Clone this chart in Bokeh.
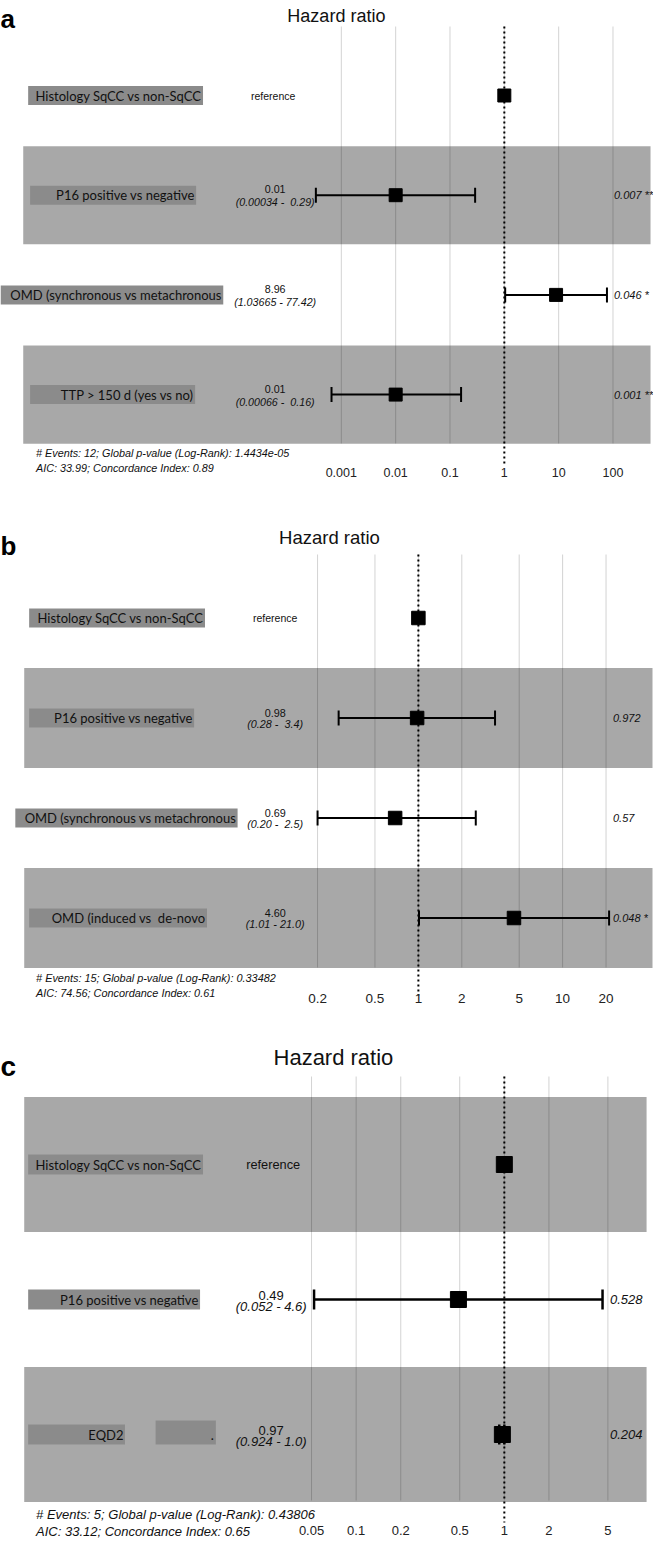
import numpy as np
from bokeh.plotting import figure
from bokeh.models import Range1d, FixedTicker, CustomJSTickFormatter, Label
from bokeh.layouts import column
from bokeh.core.properties import value
from bokeh.embed import file_html
from bokeh.resources import INLINE

# ---------------- data ----------------
NULL_HR = 1.0
NB = "\u00a0"  # keeps the double spaces of the original labels visible

# panel a
a_labels = ["Histology SqCC vs non-SqCC", "P16 positive vs negative",
            "OMD (synchronous vs metachronous", "TTP > 150 d (yes vs no)"]
a_hr = [1.0, 0.01, 8.96, 0.01]
a_lo = [np.nan, 0.00034, 1.03665, 0.00066]
a_hi = [np.nan, 0.29, 77.42, 0.16]
a_est = ["reference", "0.01", "8.96", "0.01"]
a_ci = ["", "(0.00034 - " + NB + "0.29)", "(1.03665 - 77.42)", "(0.00066 - " + NB + "0.16)"]
a_p = ["", "0.007 **", "0.046 *", "0.001 **"]
a_ticks = [0.001, 0.01, 0.1, 1, 10, 100]
a_tick_labels = ["0.001", "0.01", "0.1", "1", "10", "100"]
a_events = "# Events: 12; Global p-value (Log-Rank): 1.4434e-05"
a_aic = "AIC: 33.99; Concordance Index: 0.89"

# panel b
b_labels = ["Histology SqCC vs non-SqCC", "P16 positive vs negative",
            "OMD (synchronous vs metachronous", "OMD (induced vs " + NB + "de-novo"]
b_hr = [1.0, 0.98, 0.69, 4.60]
b_lo = [np.nan, 0.28, 0.20, 1.01]
b_hi = [np.nan, 3.4, 2.5, 21.0]
b_est = ["reference", "0.98", "0.69", "4.60"]
b_ci = ["", "(0.28 - " + NB + "3.4)", "(0.20 - " + NB + "2.5)", "(1.01 - 21.0)"]
b_p = ["", "0.972", "0.57", "0.048 *"]
b_ticks = [0.2, 0.5, 1, 2, 5, 10, 20]
b_tick_labels = ["0.2", "0.5", "1", "2", "5", "10", "20"]
b_events = "# Events: 15; Global p-value (Log-Rank): 0.33482"
b_aic = "AIC: 74.56; Concordance Index: 0.61"

# panel c
c_labels = ["Histology SqCC vs non-SqCC", "P16 positive vs negative", "EQD2"]
c_level = ["", "", "."]
c_hr = [1.0, 0.49, 0.97]
c_lo = [np.nan, 0.052, 0.924]
c_hi = [np.nan, 4.6, 1.0]
c_est = ["reference", "0.49", "0.97"]
c_ci = ["", "(0.052 - 4.6)", "(0.924 - 1.0)"]
c_p = ["", "0.528", "0.204"]
c_ticks = [0.05, 0.1, 0.2, 0.5, 1, 2, 5]
c_tick_labels = ["0.05", "0.1", "0.2", "0.5", "1", "2", "5"]
c_events = "# Events: 5; Global p-value (Log-Rank): 0.43806"
c_aic = "AIC: 33.12; Concordance Index: 0.65"

# ---------------- layout ----------------
FIG_W = 653
REF_W = 661
SANS = "Liberation Sans"
LAB = "Lato"

spec_a = dict(T=0, H=497, MB=21, X1=510, D=55, R1=95, S=99.7,
              band_rows=[2, 4], band_half=0.492, band_x=(23, 658),
              grid=(26, 443), dot=(26, 463),
              title_x=340, title_y=15, title_size=18,
              letter="a", letter_y=18, letter_size=26,
              est_x=278, est_dy=(-6, 7), est_size=10.7, ref_x=276, ref_size=10.5,
              p_x=621, p_size=11, ev_x=36, ev_y=(452, 467), ev_size=10.8,
              tick_size=12.5, standoff=-9, square=13, cap=15, lw=2,
              boxes=[(28, 205), (30, 198), (0, 225.5), (30, 197)], box_h=9.5,
              label_size=13)
spec_b = dict(T=505, H=535, MB=33, X1=423, D=146, R1=625.5, S=100,
              band_rows=[2, 4], band_half=0.5, band_x=(24, 660),
              grid=(562, 975), dot=(562, 1003),
              title_x=333, title_y=545, title_size=18.5,
              letter="b", letter_y=553, letter_size=26,
              est_x=278, est_dy=(-5, 6), est_size=10.8, ref_x=278, ref_size=10.5,
              p_x=620, p_size=11, ev_x=36, ev_y=(985, 1000), ev_size=10.9,
              tick_size=13.5, standoff=-6, square=13.5, cap=15, lw=2,
              boxes=[(29, 207), (29, 196), (15, 240), (29, 209)], box_h=9.5,
              label_size=13)
spec_c = dict(T=1048, H=509, MB=1, X1=510, D=150, R1=1180, S=135,
              band_rows=[1, 3], band_half=0.5, band_x=(24, 654),
              grid=(1092, 1516), dot=(1092, 1538),
              title_x=337, title_y=1073, title_size=22,
              letter="c", letter_y=1082, letter_size=28,
              est_x=274, est_dy=(-4, 7), est_size=13, ref_x=276, ref_size=12.8,
              p_x=617, p_size=13, ev_x=36, ev_y=(1530, 1547), ev_size=13,
              tick_size=13, standoff=-15, square=16, cap=20, lw=2.5,
              boxes=[(28, 205), (28, 202), (28, 126)], box_h=10,
              level_box=(157, 218), level_h=12,
              label_size=13)

FMT_CODE = """
let best = 0, bd = Infinity;
for (let i = 0; i < vals.length; i++) {
  const d = Math.abs(Math.log(vals[i]) - Math.log(tick));
  if (d < bd) { bd = d; best = i; }
}
return labels[best];
"""


def build(sp, labels, hr, lo, hi, est, ci, pv, ticks, tick_labels, events, aic, level=None):
    X1, D, R1, S = sp["X1"], sp["D"], sp["R1"], sp["S"]
    T, H, MB = sp["T"], sp["H"], sp["MB"]

    def xd(px):
        return 10 ** ((px - X1) / D)

    def yd(r):
        return 1 + (r - R1) / S

    p = figure(width=FIG_W, height=H, x_axis_type="log",
               x_range=Range1d(xd(0), xd(REF_W)),
               y_range=Range1d(start=yd(T + H - MB), end=yd(T)),
               output_backend="svg", toolbar_location=None,
               min_border_left=0, min_border_right=0, min_border_top=0,
               min_border_bottom=MB, y_axis_location=None,
               outline_line_color=None, background_fill_color="white",
               border_fill_color="white")
    p.xgrid.visible = False
    p.ygrid.visible = False

    n = len(labels)
    rows = list(range(1, n + 1))

    # grid lines
    p.segment(x0=ticks, x1=ticks, y0=[yd(sp["grid"][0])] * len(ticks),
              y1=[yd(sp["grid"][1])] * len(ticks), line_color="#d3d3d3", line_width=1)
    # bands
    br = sp["band_rows"]
    hb = sp["band_half"]
    p.quad(left=[xd(sp["band_x"][0])] * len(br), right=[xd(sp["band_x"][1])] * len(br),
           top=[r - hb for r in br], bottom=[r + hb for r in br],
           fill_color="black", fill_alpha=0.34, line_color=None)
    # label boxes
    bh = sp["box_h"] / S
    p.quad(left=[xd(b[0]) for b in sp["boxes"]], right=[xd(b[1]) for b in sp["boxes"]],
           top=[r - bh for r in rows], bottom=[r + bh for r in rows],
           fill_color="#8b8b8b", line_color=None)
    p.text(x=[xd(b[1] - 1.5) for b in sp["boxes"]], y=rows, text=labels,
           text_font=value(LAB), text_font_size=f"{sp['label_size']}px",
           text_color="#111111", text_align="right", text_baseline="middle")
    if level is not None:
        lr = [r for r, t in zip(rows, level) if t]
        lt = [t for t in level if t]
        lh = sp["level_h"] / S
        lb = sp["level_box"]
        p.quad(left=[xd(lb[0])] * len(lr), right=[xd(lb[1])] * len(lr),
               top=[r + bh - 2 * lh for r in lr],
               bottom=[r + bh for r in lr],
               fill_color="#8b8b8b", line_color=None)
        p.text(x=[xd(lb[1] - 2)] * len(lr), y=lr, text=lt, text_font=value(LAB),
               text_font_size=f"{sp['label_size']}px", text_color="#111111",
               text_align="right", text_baseline="middle")

    # estimates
    ref_rows = [r for r, c in zip(rows, ci) if not c]
    ref_txt = [e for e, c in zip(est, ci) if not c]
    p.text(x=[xd(sp["ref_x"])] * len(ref_rows), y=ref_rows, text=ref_txt,
           text_font=value(SANS), text_font_size=f"{sp['ref_size']}px",
           text_color="#111111", text_align="center", text_baseline="middle")
    e_rows = [r for r, c in zip(rows, ci) if c]
    e_txt = [e for e, c in zip(est, ci) if c]
    c_txt = [c for c in ci if c]
    p.text(x=[xd(sp["est_x"])] * len(e_rows), y=[r + sp["est_dy"][0] / S for r in e_rows],
           text=e_txt, text_font=value(SANS), text_font_size=f"{sp['est_size']}px",
           text_color="#111111", text_align="center", text_baseline="middle")
    p.text(x=[xd(sp["est_x"])] * len(e_rows), y=[r + sp["est_dy"][1] / S for r in e_rows],
           text=c_txt, text_font=value(SANS), text_font_size=f"{sp['est_size']}px",
           text_font_style="italic",
           text_color="#111111", text_align="center", text_baseline="middle")
    # p-values
    p_rows = [r for r, t in zip(rows, pv) if t]
    p_txt = [t for t in pv if t]
    p.text(x=[xd(sp["p_x"])] * len(p_rows), y=p_rows, text=p_txt,
           text_font=value(SANS), text_font_size=f"{sp['p_size']}px",
           text_font_style="italic", text_color="#111111",
           text_align="left", text_baseline="middle")

    # null line
    p.segment(x0=[NULL_HR], x1=[NULL_HR], y0=[yd(sp["dot"][0])], y1=[yd(sp["dot"][1])],
              line_color="black", line_width=2, line_dash="2 3")

    # confidence intervals
    ci_rows = [r for r, l in zip(rows, lo) if not np.isnan(l)]
    los = [l for l in lo if not np.isnan(l)]
    his = [h for h in hi if not np.isnan(h)]
    p.segment(x0=los, x1=his, y0=ci_rows, y1=ci_rows, line_color="black", line_width=sp["lw"])
    p.scatter(x=los + his, y=ci_rows + ci_rows, marker="dash", angle=np.pi / 2,
              size=sp["cap"], line_color="black", line_width=sp["lw"])
    # point estimates
    p.scatter(x=hr, y=rows, marker="square", size=sp["square"], fill_color="black",
              line_color="black")

    # title and panel letter
    p.text(x=[xd(sp["title_x"])], y=[yd(sp["title_y"])], text=["Hazard ratio"],
           text_font=value(SANS), text_font_size=f"{sp['title_size']}px",
           text_color="#111111", text_align="center", text_baseline="alphabetic")
    p.text(x=[xd(0)], y=[yd(sp["letter_y"])], text=[sp["letter"]],
           text_font=value(SANS), text_font_size=f"{sp['letter_size']}px",
           text_font_style="bold", text_color="black", text_align="left",
           text_baseline="alphabetic")

    # footnotes
    for txt, yy in zip([events, aic], sp["ev_y"]):
        p.add_layout(Label(x=xd(sp["ev_x"]), y=yd(yy), text=txt, text_font=SANS,
                           text_font_size=f"{sp['ev_size']}px", text_font_style="italic",
                           text_color="#111111", text_align="left", text_baseline="middle"))

    # axis
    ax = p.xaxis[0]
    ax.ticker = FixedTicker(ticks=ticks, minor_ticks=[])
    ax.formatter = CustomJSTickFormatter(args=dict(labels=tick_labels, vals=ticks), code=FMT_CODE)
    ax.axis_line_color = None
    ax.major_tick_line_color = None
    ax.minor_tick_line_color = None
    ax.major_tick_out = 0
    ax.major_tick_in = 0
    ax.minor_tick_out = 0
    ax.major_label_standoff = sp["standoff"]
    ax.major_label_text_font = SANS
    ax.major_label_text_font_size = f"{sp['tick_size']}px"
    ax.major_label_text_color = "#222222"
    return p


pa = build(spec_a, a_labels, a_hr, a_lo, a_hi, a_est, a_ci, a_p, a_ticks, a_tick_labels,
           a_events, a_aic)
pb = build(spec_b, b_labels, b_hr, b_lo, b_hi, b_est, b_ci, b_p, b_ticks, b_tick_labels,
           b_events, b_aic)
pc = build(spec_c, c_labels, c_hr, c_lo, c_hi, c_est, c_ci, c_p, c_ticks, c_tick_labels,
           c_events, c_aic, level=c_level)

layout = column(pa, pb, pc, spacing=0)
open("out.html", "w").write(file_html(layout, INLINE))
